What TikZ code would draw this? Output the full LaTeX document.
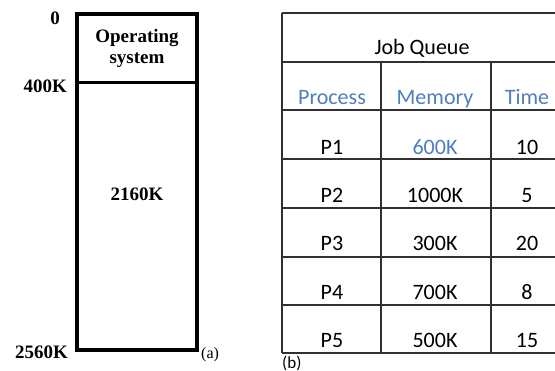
\documentclass[tikz,border=0pt]{standalone}
\usepackage{fontspec}
\setmainfont{Liberation Serif}
\newfontfamily\calib{Carlito}
\definecolor{hdrblue}{HTML}{4F7FBF}
\definecolor{gridgray}{HTML}{303030}
\begin{document}
\begin{tikzpicture}[x=1pt,y=-1pt,
  memlbl/.style={font=\fontsize{19}{21}\selectfont\bfseries, inner sep=0pt},
  cell/.style={font=\calib\fontsize{22}{24}\selectfont, inner sep=0pt, anchor=base},
  hdr/.style={cell, text=hdrblue},
  grid/.style={draw=gridgray, line width=1.1pt}]
\useasboundingbox (0,0) rectangle (555,371);
\fill[white] (0,0) rectangle (555,371);
% memory map
\draw[line width=4pt] (77,14) rectangle (197,350);
\draw[line width=3pt] (77,83) -- (197,83);
\node[memlbl, align=center] (os) at (137,48) {Operating\\[0pt]system};
\node[memlbl] (free) at (137,194) {2160K};
\node[memlbl, anchor=east] (a0) at (60,18) {0};
\node[memlbl, anchor=east] (a400) at (67,86) {400K};
\node[memlbl, anchor=east] (a2560) at (68,352) {2560K};
\node[font=\fontsize{16}{18}\selectfont, inner sep=0pt, anchor=west] (la) at (201,355) {(a)};
% job queue table
\begin{scope}
\clip (270,0) rectangle (555,371);
\draw[grid] (282,13) -- (560,13);
\draw[grid] (282,62) -- (560,62);
\foreach \yy in {110,159,208,257,305,353} \draw[grid] (282,\yy) -- (560,\yy);
\draw[grid] (282,13) -- (282,353);
\draw[grid] (381,62) -- (381,353);
\draw[grid] (491,62) -- (491,353);
\end{scope}
\node[cell] (jq) at (422,55) {Job Queue};
\node[hdr] (hp) at (332,105) {Process};
\node[hdr] (hm) at (435,105) {Memory};
\node[hdr] (ht) at (527,105) {Time};
\node[cell] (p1) at (332,155) {P1};
\node[hdr] (m1) at (435,155) {600K};
\node[cell] (t1) at (527,155) {10};
\node[cell] (p2) at (332,203) {P2};
\node[cell] (m2) at (435,203) {1000K};
\node[cell] (t2) at (527,203) {5};
\node[cell] (p3) at (332,251) {P3};
\node[cell] (m3) at (435,251) {300K};
\node[cell] (t3) at (527,251) {20};
\node[cell] (p4) at (332,300) {P4};
\node[cell] (m4) at (435,300) {700K};
\node[cell] (t4) at (527,300) {8};
\node[cell] (p5) at (332,348) {P5};
\node[cell] (m5) at (435,348) {500K};
\node[cell] (t5) at (527,348) {15};
\node[font=\calib\fontsize{17}{19}\selectfont, inner sep=0pt, anchor=west] (lb) at (282,363) {(b)};
\end{tikzpicture}
\end{document}
